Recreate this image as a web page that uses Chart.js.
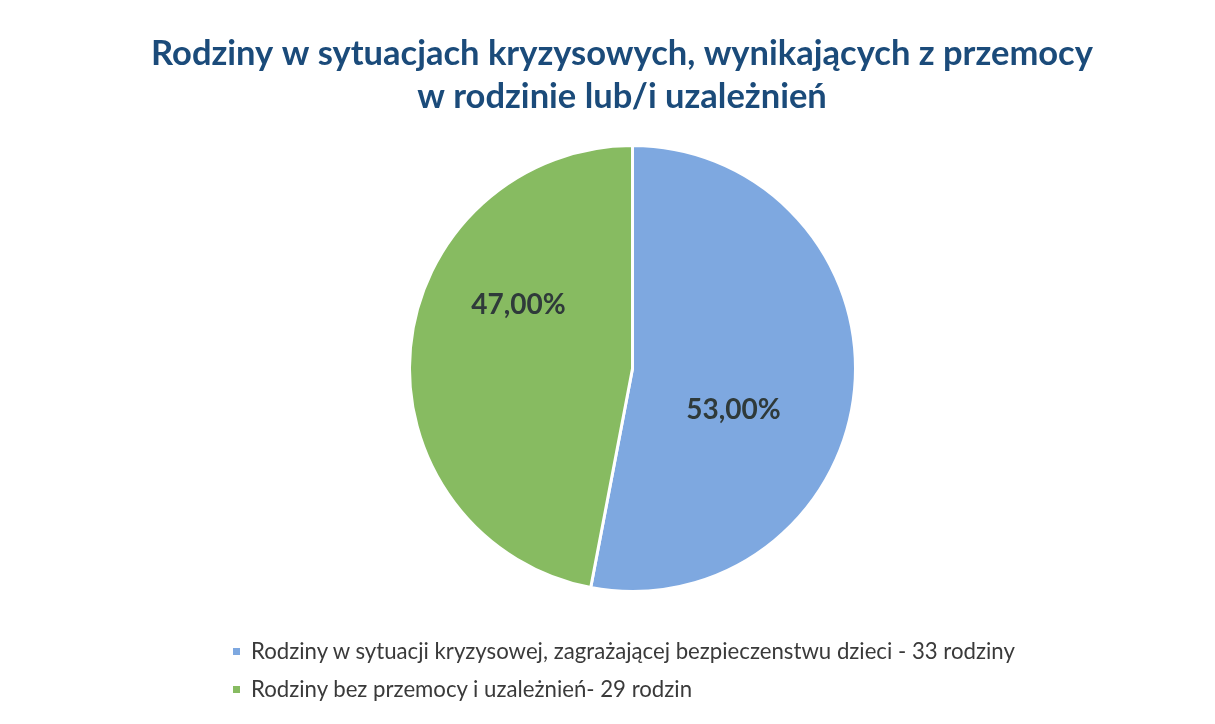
<!DOCTYPE html>
<html lang="pl">
<head>
    <meta charset="UTF-8">
    <title>Rodziny w sytuacjach kryzysowych</title>
    <script src="https://cdn.jsdelivr.net/npm/chart.js"></script>
    <style>
        html, body {
            margin: 0;
            padding: 0;
            background: #ffffff;
        }
        #wrap {
            position: relative;
            width: 1215px;
            height: 724px;
        }
        #legend {
            position: absolute;
            left: 233px;
            top: 632px;
            font-family: Lato, "Open Sans", sans-serif;
            font-size: 22.2px;
            color: #3a3a3a;
        }
        .item {
            height: 38px;
            line-height: 38px;
            white-space: nowrap;
        }
        .box {
            display: inline-block;
            width: 7px;
            height: 7px;
            margin-right: 11px;
            vertical-align: 4px;
        }
    </style>
</head>
<body>
<div id="wrap">
    <canvas id="pie" width="1215" height="724"></canvas>
    <div id="legend"></div>
</div>
<script>
    // data
    const titleLines = ['Rodziny w sytuacjach kryzysowych, wynikających z przemocy', 'w rodzinie lub/i uzależnień'];
    const categories = [
        'Rodziny w sytuacji kryzysowej, zagrażającej bezpieczenstwu dzieci - 33 rodziny',
        'Rodziny bez przemocy i uzależnień- 29 rodzin'
    ];
    const shares = [53, 47];
    const colors = ['#7ea8e0', '#87bb61'];

    // where each % label sits inside its slice (fraction of angle, fraction of radius)
    const labelSpot = [[0.59, 0.49], [0.64, 0.585]];

    // title sits a little left of the pie in the original
    const chartTitle = {
        id: 'chartTitle',
        afterDraw(chart) {
            const ctx = chart.ctx;
            ctx.save();
            ctx.font = 'bold 34.5px Lato, sans-serif';
            ctx.fillStyle = '#1b4b7a';
            ctx.textAlign = 'center';
            ctx.textBaseline = 'middle';
            titleLines.forEach((t, i) => ctx.fillText(t, 622, 54 + i * 43));
            ctx.restore();
        }
    };

    const pctLabels = {
        id: 'pctLabels',
        afterDatasetsDraw(chart) {
            const ctx = chart.ctx;
            const arcs = chart.getDatasetMeta(0).data;
            ctx.save();
            ctx.font = 'bold 28px Lato, sans-serif';
            ctx.fillStyle = '#2f3a3a';
            ctx.textAlign = 'center';
            ctx.textBaseline = 'middle';
            arcs.forEach((arc, i) => {
                const p = arc.getProps(['x', 'y', 'startAngle', 'endAngle', 'outerRadius']);
                const a = p.startAngle + (p.endAngle - p.startAngle) * labelSpot[i][0];
                const r = p.outerRadius * labelSpot[i][1];
                const txt = shares[i].toFixed(2).replace('.', ',') + '%';
                ctx.fillText(txt, p.x + Math.cos(a) * r, p.y + Math.sin(a) * r);
            });
            ctx.restore();
        }
    };

    new Chart(document.getElementById('pie'), {
        type: 'pie',
        data: {
            labels: categories,
            datasets: [{
                data: shares,
                backgroundColor: colors,
                borderColor: '#ffffff',
                borderWidth: 3
            }]
        },
        options: {
            responsive: false,
            animation: false,
            layout: { padding: { left: 50, right: 0, top: 144, bottom: 131 } },
            plugins: {
                legend: { display: false },
                tooltip: { enabled: false },
                title: { display: false }
            }
        },
        plugins: [pctLabels, chartTitle]
    });

    const legend = document.getElementById('legend');
    categories.forEach((c, i) => {
        const row = document.createElement('div');
        row.className = 'item';
        const box = document.createElement('span');
        box.className = 'box';
        box.style.background = colors[i];
        row.appendChild(box);
        row.appendChild(document.createTextNode(c));
        legend.appendChild(row);
    });
</script>
</body>
</html>
